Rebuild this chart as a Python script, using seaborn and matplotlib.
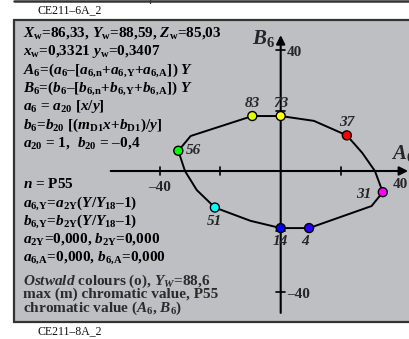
import matplotlib
matplotlib.use("Agg")
import matplotlib.pyplot as plt
import seaborn as sns
import pandas as pd
from matplotlib.patches import Rectangle
from matplotlib.lines import Line2D

# 数据: 颜色样本点 (A6, B6)
sample_ids = ['83', '73', '37', '31', '4', '14', '51', '56']
sample_A = [-9.4, 0.0, 21.9, 33.8, 9.4, 0.0, -21.8, -33.9]
sample_B = [18.2, 18.2, 11.8, -7.0, -18.9, -18.9, -12.1, 6.7]
sample_colors = ['#ddff00', '#ffff00', '#ff0000', '#ff00ff',
                 '#2a00ff', '#0000ff', '#00ffff', '#00ff00']

# 最大色度边界线
boundary_A = [-33.9, -29.8, -9.4, 0.0, 11.0, 21.9, 27.0, 31.2, 33.8,
              30.1, 9.4, 0.0, -10.0, -21.8, -27.8, -31.7, -33.9]
boundary_B = [6.7, 11.6, 18.2, 18.2, 16.6, 11.8, 6.0, 0.0, -7.0,
              -11.6, -18.9, -18.9, -16.5, -12.1, -6.3, 0.0, 6.7]

# 坐标轴刻度
x_ticks = [-40, -20, 20]
y_ticks = [-40, -20, 20, 40]

info_lines = [
    r"$X_\mathrm{w}$=86,33, $Y_\mathrm{w}$=88,59, $Z_\mathrm{w}$=85,03",
    r"$x_\mathrm{w}$=0,3321 $y_\mathrm{w}$=0,3407",
    r"$A_6$=($a_6$–[$a_{6,\!\mathrm{n}}$+$a_{6,\!\mathrm{Y}}$+$a_{6,\!\mathrm{A}}$]) $Y$",
    r"$B_6$=($b_6$–[$b_{6,\!\mathrm{n}}$+$b_{6,\!\mathrm{Y}}$+$b_{6,\!\mathrm{A}}$]) $Y$",
    r"$a_6$ = $a_{20}$ [$x$/$y$]",
    r"$b_6$=$b_{20}$ [($m_\mathrm{D1}x$+$b_\mathrm{D1}$)/$y$]",
    r"$a_{20}$ = 1,  $b_{20}$ = –0,4",
    r"$n$ = P55",
    r"$a_{6,\!\mathrm{Y}}$=$a_{2\mathrm{Y}}$($Y$/$Y_{18}$–1)",
    r"$b_{6,\!\mathrm{Y}}$=$b_{2\mathrm{Y}}$($Y$/$Y_{18}$–1)",
    r"$a_{2\mathrm{Y}}$=0,000, $b_{2\mathrm{Y}}$=0,000",
    r"$a_{6,\!\mathrm{A}}$=0,000, $b_{6,\!\mathrm{A}}$=0,000",
    r"$Ostwald$ colours (o), $Y_W$=88,6",
    "max (m) chromatic value, P55",
    r"chromatic value ($A_6$, $B_6$)",
]
info_baselines = [37, 55.5, 73.5, 92, 110, 128.5, 147, 187.5, 206.5, 225,
                  243, 261, 284.5, 298, 312]

sns.set_theme(style='white')
plt.rcParams['font.family'] = ['Liberation Serif', 'DejaVu Serif']
plt.rcParams['font.weight'] = 'bold'
plt.rcParams['mathtext.fontset'] = 'custom'
plt.rcParams['mathtext.rm'] = 'Liberation Serif:bold'
plt.rcParams['mathtext.bf'] = 'Liberation Serif:bold'
plt.rcParams['mathtext.it'] = 'Liberation Serif:italic:bold'
plt.rcParams['mathtext.default'] = 'it'

W, H = 410, 339
scale = 3.02
ox, oy = 280.7, 171.0


def fx(px):
    return px / W


def fy(py):
    return 1 - py / H


fig = plt.figure(figsize=(W / 100, H / 100), dpi=100)
fig.patch.set_facecolor('white')

# 灰色背景框
fig.add_artist(Rectangle((fx(14), fy(322)), fx(420) - fx(14), fy(20) - fy(322),
                         transform=fig.transFigure, facecolor='#bebfc3',
                         edgecolor='#333333', linewidth=1.6, zorder=0))
fig.add_artist(Line2D([fx(14), fx(410)], [fy(0.5), fy(0.5)], transform=fig.transFigure,
                      color='#333333', linewidth=1.8))
fig.add_artist(Line2D([fx(150), fx(150)], [fy(0), fy(3)], transform=fig.transFigure,
                      color='#333333', linewidth=1.0))
fig.text(fx(38), fy(10), "CE211–6A_2", fontsize=8.5, fontweight='normal',
         va='center', ha='left', color='#111111')
fig.text(fx(38), fy(331), "CE211–8A_2", fontsize=8.5, fontweight='normal',
         va='center', ha='left', color='#111111')

ax = fig.add_axes([0, 0, 1, 1])
ax.patch.set_alpha(0)

# 坐标轴及箭头
ax.annotate('', xy=(42.2, 0), xytext=(-56.3, 0),
            arrowprops=dict(arrowstyle='-|>', lw=1.5, color='black',
                            mutation_scale=13, shrinkA=0, shrinkB=0))
ax.annotate('', xy=(0, 45.0), xytext=(0, -47.0),
            arrowprops=dict(arrowstyle='-|>', lw=1.5, color='black',
                            mutation_scale=13, shrinkA=0, shrinkB=0))
for t in x_ticks:
    ax.plot([t, t], [-1.3, 1.3], color='black', lw=1.2)
for t in y_ticks:
    ax.plot([-1.4, 1.4], [t, t], color='black', lw=1.2)

ax.text(-40, -5.3, '–40', fontsize=11, ha='center', va='center')
ax.text(39.6, -4.6, '40', fontsize=11, ha='center', va='center')
ax.text(2.0, 39.2, '40', fontsize=11, ha='left', va='center')
ax.text(2.2, -41.0, '–40', fontsize=11, ha='left', va='center')
ax.text(-5.8, 44.0, r'$B_6$', fontsize=15, ha='center', va='center')
ax.text(36.5, 5.8, r'$A_6$', fontsize=15, ha='left', va='center')

# 边界线
boundary = pd.DataFrame({'A': boundary_A, 'B': boundary_B})
sns.lineplot(data=boundary, x='A', y='B', sort=False, estimator=None,
             color='black', lw=1.4, ax=ax)

# 样本点
samples = pd.DataFrame({'id': sample_ids, 'A': sample_A, 'B': sample_B})
sns.scatterplot(data=samples, x='A', y='B', hue='id', palette=sample_colors,
                s=42, edgecolor='black', linewidth=1.0, legend=False,
                zorder=5, ax=ax)
ax.set_xlim(-ox / scale, (W - ox) / scale)
ax.set_ylim((oy - H) / scale, oy / scale)
ax.axis('off')

label_offsets = {'83': (0, 9), '73': (0, 9), '37': (0, 9), '31': (-14, -2),
                 '4': (-3, -10), '14': (0, -10), '51': (0, -10), '56': (11, 0)}
for sid, a, b in zip(sample_ids, sample_A, sample_B):
    dx, dy = label_offsets[sid]
    ax.annotate(sid, xy=(a, b), xytext=(dx, dy), textcoords='offset points',
                fontsize=11, fontstyle='italic', fontweight='bold',
                ha='center', va='center', zorder=6)

# 左侧说明文字
for i, (line, yb) in enumerate(zip(info_lines, info_baselines)):
    col = '#2b2b2b' if i >= 12 else 'black'
    fig.text(fx(23), fy(yb), line, fontsize=11, ha='left', va='baseline', color=col)

fig.savefig('out.png', dpi=100)
